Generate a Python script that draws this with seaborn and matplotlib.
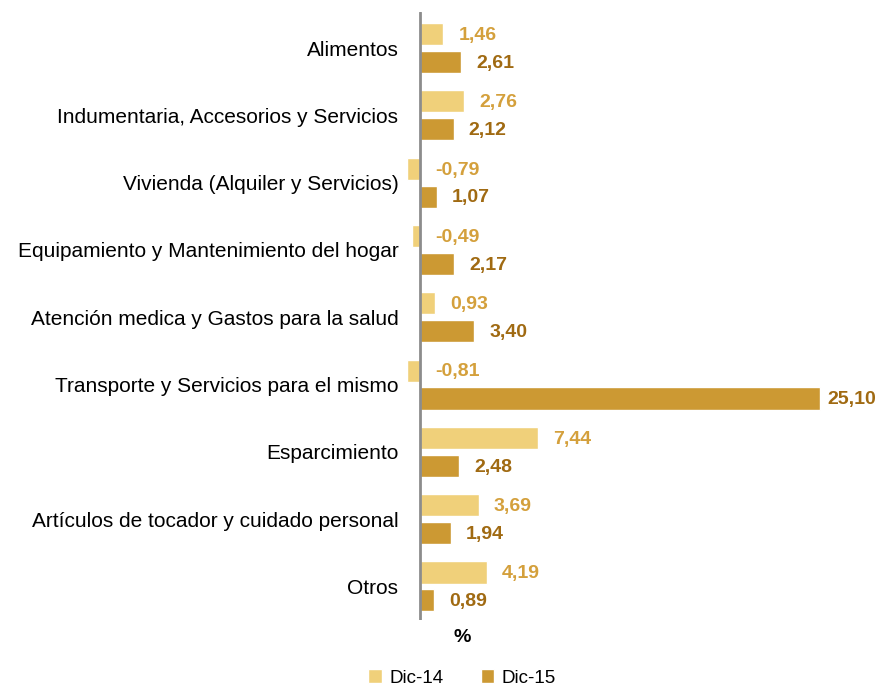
import matplotlib.pyplot as plt
import pandas as pd
import seaborn as sns

categorias = [
    "Alimentos",
    "Indumentaria, Accesorios y Servicios",
    "Vivienda (Alquiler y Servicios)",
    "Equipamiento y Mantenimiento del hogar",
    "Atención medica y Gastos para la salud",
    "Transporte y Servicios para el mismo",
    "Esparcimiento",
    "Artículos de tocador y cuidado personal",
    "Otros",
]
dic_14 = [1.46, 2.76, -0.79, -0.49, 0.93, -0.81, 7.44, 3.69, 4.19]
dic_15 = [2.61, 2.12, 1.07, 2.17, 3.40, 25.10, 2.48, 1.94, 0.89]
periodos = ["Dic-14", "Dic-15"]

colores_barra = {"Dic-14": "#F0D07A", "Dic-15": "#CC9933"}
colores_texto = {"Dic-14": "#D4A03C", "Dic-15": "#A06A12"}

df = pd.DataFrame(
    {
        "Categoria": categorias * 2,
        "Valor": dic_14 + dic_15,
        "Periodo": [periodos[0]] * len(categorias) + [periodos[1]] * len(categorias),
    }
)

sns.set_style("white")
plt.rcParams["font.family"] = ["Liberation Sans", "DejaVu Sans"]
plt.rcParams["text.color"] = "black"
plt.rcParams["ytick.color"] = "black"

fig, ax = plt.subplots(figsize=(8.83, 6.89), dpi=100)
fig.subplots_adjust(left=0.4575, right=0.94, top=0.983, bottom=0.1)

sns.barplot(
    data=df,
    y="Categoria",
    x="Valor",
    hue="Periodo",
    orient="h",
    palette=colores_barra,
    saturation=1,
    width=0.83,
    gap=0.21,
    ax=ax,
    legend=True,
)

xmax = 25.75
ax.set_xlim(-1.0, xmax)
ax.set_ylim(8.5, -0.54)
ax.axvline(0, color="#8c8c8c", linewidth=2)
for s in ax.spines.values():
    s.set_visible(False)
ax.set_xticks([])
ax.set_xlabel("")
ax.set_ylabel("")
ax.tick_params(axis="y", length=0, labelsize=15, pad=4, labelcolor="black")

# etiquetas de valor (como Excel: se acercan a la barra si no caben)
for periodo, cont in zip(periodos, ax.containers):
    for bar in cont:
        v = bar.get_width()
        y = bar.get_y() + bar.get_height() / 2
        off = min(0.95, xmax - 0.15 - max(v, 0))
        ax.text(
            max(v, 0) + off,
            y + 0.02,
            f"{v:.2f}".replace(".", ","),
            ha="left",
            va="center",
            fontsize=14,
            fontweight="bold",
            color=colores_texto[periodo],
        )

fig.text(462 / 883, 1 - 637 / 689, "%", ha="center", va="center",
         fontsize=14, fontweight="bold")

handles, labels = ax.get_legend_handles_labels()
ax.get_legend().remove()
fig.legend(
    handles,
    labels,
    loc="center",
    bbox_to_anchor=(462 / 883, 1 - 678 / 689),
    ncol=2,
    frameon=False,
    fontsize=13.5,
    handlelength=0.7,
    handleheight=0.7,
    handletextpad=0.4,
    columnspacing=2.0,
)

plt.savefig("out.png", dpi=100)
plt.close()
